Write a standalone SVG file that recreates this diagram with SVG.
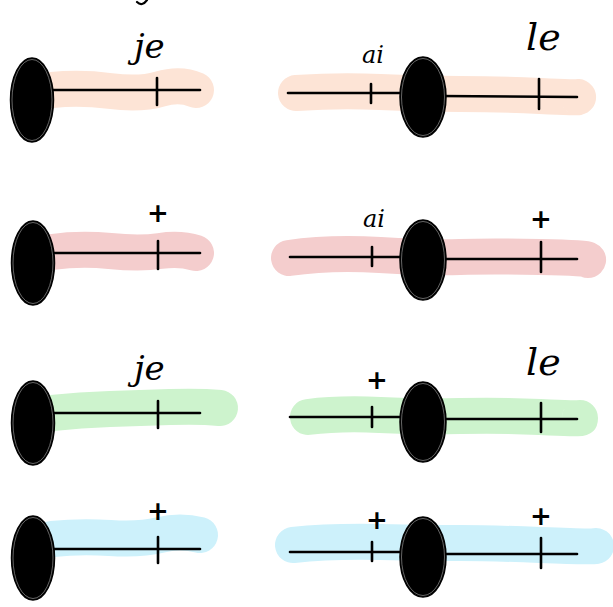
<svg xmlns="http://www.w3.org/2000/svg" width="613" height="607" viewBox="0 0 613 607">
<style>
.band{fill:none;stroke-linecap:round;stroke-linejoin:round;stroke-width:36}
.peach{stroke:#fde4d6}.pink{stroke:#f4cdcd}.green{stroke:#cdf3cd}.blue{stroke:#cdf1fb}
.ln{fill:none;stroke:#000;stroke-width:2.6;stroke-linecap:round}
.tk{fill:none;stroke:#000;stroke-width:2.6;stroke-linecap:round}
.blob{fill:#000;stroke:#000;stroke-width:1.5}
.ring{fill:none;stroke:#aaa;stroke-width:0.6}
.hw{font-family:"DejaVu Serif",serif;font-style:italic;fill:#000}
.pl{font-family:"DejaVu Sans",sans-serif;fill:#000;font-size:26px;font-weight:bold;text-anchor:middle}
</style>
<rect width="613" height="607" fill="#fff"/>
<path d="M137 2 Q142 7 147 0" fill="none" stroke="#000" stroke-width="2.2" stroke-linecap="round"/>

<g id="bands">
<path class="band peach" d="M52 90 Q80 87 110 91 T160 89 T196 90"/>
<path class="band peach" d="M296 93 Q340 90 380 92 T460 94 T540 96 T578 97"/>
<path class="band pink" d="M52 252 Q80 248 110 251 T160 251 T196 253"/>
<path class="band pink" d="M289 258 Q330 252 380 255 T460 257 T540 257 T588 260"/>
<path class="band green" d="M52 413 Q80 410 110 409 T170 407 T220 408"/>
<path class="band green" d="M308 417 Q340 413 380 415 T460 416 T540 417 T580 418"/>
<path class="band blue" d="M52 539 Q80 536 110 538 T160 535 T200 535"/>
<path class="band blue" d="M293 545 Q330 541 380 542 T460 543 T540 545 T596 546"/>
</g>

<g id="connectors">
<line class="ln" x1="53" y1="90" x2="200" y2="90"/>
<line class="tk" x1="157" y1="78" x2="157" y2="105"/>
<line class="ln" x1="288" y1="93" x2="405" y2="93"/>
<line class="ln" x1="440" y1="96" x2="577" y2="97"/>
<line class="tk" x1="371" y1="84" x2="371" y2="103"/>
<line class="tk" x1="539" y1="79" x2="539" y2="109"/>
<line class="ln" x1="53" y1="253" x2="200" y2="253"/>
<line class="tk" x1="158" y1="241" x2="158" y2="269"/>
<line class="ln" x1="290" y1="257" x2="405" y2="257"/>
<line class="ln" x1="440" y1="259" x2="577" y2="259"/>
<line class="tk" x1="372" y1="247" x2="372" y2="266"/>
<line class="tk" x1="541" y1="242" x2="541" y2="272"/>
<line class="ln" x1="53" y1="413" x2="200" y2="413"/>
<line class="tk" x1="158" y1="401" x2="158" y2="428"/>
<line class="ln" x1="290" y1="417" x2="405" y2="417"/>
<line class="ln" x1="440" y1="419" x2="577" y2="419"/>
<line class="tk" x1="372" y1="407" x2="372" y2="427"/>
<line class="tk" x1="541" y1="403" x2="541" y2="432"/>
<line class="ln" x1="53" y1="549" x2="200" y2="549"/>
<line class="tk" x1="158" y1="537" x2="158" y2="563"/>
<line class="ln" x1="290" y1="552" x2="405" y2="552"/>
<line class="ln" x1="440" y1="554" x2="577" y2="554"/>
<line class="tk" x1="372" y1="542" x2="372" y2="561"/>
<line class="tk" x1="541" y1="538" x2="541" y2="568"/>
</g>

<g id="p1">
<ellipse class="blob" cx="32" cy="100" rx="21.5" ry="42"/>
<ellipse class="ring" cx="32" cy="100" rx="20" ry="40.5"/>
<text class="hw" x="134" y="58" font-size="34">je</text>
</g>
<g id="p2">
<ellipse class="blob" cx="423" cy="97" rx="23" ry="40"/>
<ellipse class="ring" cx="423" cy="97" rx="21.5" ry="38.5"/>
<text class="hw" x="362" y="63" font-size="24">ai</text>
<text class="hw" x="526" y="50" font-size="38">le</text>
</g>
<g id="p3">
<ellipse class="blob" cx="33" cy="263" rx="21.5" ry="42"/>
<ellipse class="ring" cx="33" cy="263" rx="20" ry="40.5"/>
<text class="pl" x="158" y="222">+</text>
</g>
<g id="p4">
<ellipse class="blob" cx="423" cy="260" rx="23" ry="40"/>
<ellipse class="ring" cx="423" cy="260" rx="21.5" ry="38.5"/>
<text class="hw" x="363" y="227" font-size="24">ai</text>
<text class="pl" x="541" y="228">+</text>
</g>
<g id="p5">
<ellipse class="blob" cx="33" cy="423" rx="21.5" ry="42"/>
<ellipse class="ring" cx="33" cy="423" rx="20" ry="40.5"/>
<text class="hw" x="134" y="380" font-size="34">je</text>
</g>
<g id="p6">
<ellipse class="blob" cx="423" cy="422" rx="23" ry="40"/>
<ellipse class="ring" cx="423" cy="422" rx="21.5" ry="38.5"/>
<text class="pl" x="377" y="389">+</text>
<text class="hw" x="526" y="375" font-size="38">le</text>
</g>
<g id="p7">
<ellipse class="blob" cx="33" cy="558" rx="21.5" ry="42"/>
<ellipse class="ring" cx="33" cy="558" rx="20" ry="40.5"/>
<text class="pl" x="158" y="520">+</text>
</g>
<g id="p8">
<ellipse class="blob" cx="423" cy="557" rx="23" ry="40"/>
<ellipse class="ring" cx="423" cy="557" rx="21.5" ry="38.5"/>
<text class="pl" x="377" y="529">+</text>
<text class="pl" x="541" y="525">+</text>
</g>
</svg>
